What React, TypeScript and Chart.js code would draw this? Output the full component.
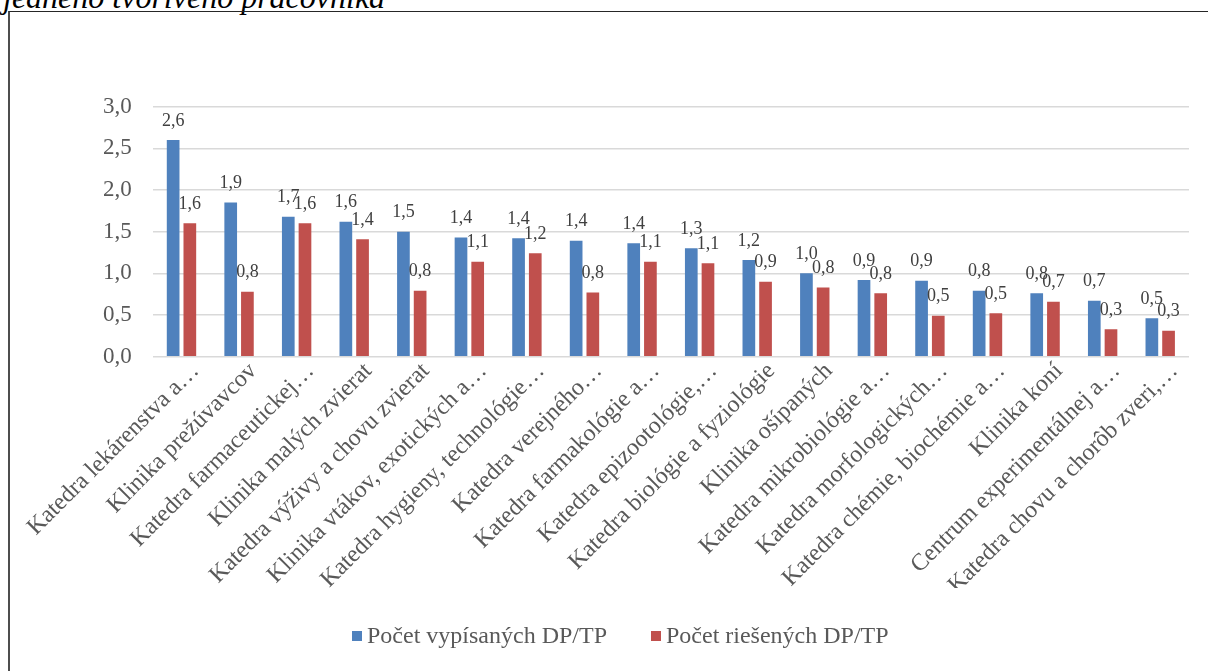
import React, { useEffect, useRef } from "react";
import { Chart, registerables } from "chart.js";

Chart.register(...registerables);

const categories = [
  "Katedra lekárenstva a…",
  "Klinika prežúvavcov",
  "Katedra farmaceutickej…",
  "Klinika malých zvierat",
  "Katedra výživy a chovu zvierat",
  "Klinika vtákov, exotických a…",
  "Katedra hygieny, technológie…",
  "Katedra verejného…",
  "Katedra farmakológie a…",
  "Katedra epizootológie,…",
  "Katedra biológie a fyziológie",
  "Klinika ošípaných",
  "Katedra mikrobiológie a…",
  "Katedra morfologických…",
  "Katedra chémie, biochémie a…",
  "Klinika koní",
  "Centrum experimentálnej a…",
  "Katedra chovu a chorôb zveri,…",
];

const vypisane = [2.6, 1.85, 1.68, 1.62, 1.5, 1.43, 1.42, 1.39, 1.36, 1.3, 1.16, 1.0, 0.92, 0.91, 0.79, 0.76, 0.67, 0.46];
const riesene = [1.6, 0.78, 1.6, 1.41, 0.79, 1.14, 1.24, 0.77, 1.14, 1.12, 0.9, 0.83, 0.76, 0.49, 0.52, 0.66, 0.33, 0.31];

const seriesNames = ["Počet vypísaných DP/TP", "Počet riešených DP/TP"];
const seriesColors = ["#4f81bd", "#c0504d"];
const yMin = 0;
const yMax = 3;
const yStep = 0.5;

const FONT = '"Liberation Serif", "Times New Roman", Times, serif';
const fmt = (v: number) => Number(v).toFixed(1).replace(".", ",");

const dataLabelPlugin = {
  id: "dataLabels",
  afterDatasetsDraw(chart: any) {
    const ctx = chart.ctx;
    ctx.save();
    ctx.font = `18px ${FONT}`;
    ctx.fillStyle = "#404040";
    ctx.textAlign = "center";
    ctx.textBaseline = "alphabetic";
    chart.data.datasets.forEach((ds: any, i: number) => {
      const meta = chart.getDatasetMeta(i);
      meta.data.forEach((bar: any, j: number) => {
        ctx.fillText(fmt(ds.data[j]), bar.x, bar.y - 14.5);
      });
    });
    ctx.restore();
  },
};

// legend drawn from the datasets below the axis labels
const legendPlugin = {
  id: "bottomLegend",
  afterDraw(chart: any) {
    const ctx = chart.ctx;
    ctx.save();
    ctx.font = `24px ${FONT}`;
    ctx.textBaseline = "middle";
    ctx.textAlign = "left";
    const box = 10;
    const gapText = 5;
    const gapItem = 44;
    const cy = 624;
    let x = 352;
    chart.data.datasets.forEach((ds: any) => {
      const w = ctx.measureText(ds.label).width;
      ctx.fillStyle = ds.backgroundColor;
      ctx.fillRect(x, cy - box / 2, box, box);
      ctx.fillStyle = "#595959";
      ctx.fillText(ds.label, x + box + gapText, cy + 1);
      x += box + gapText + w + gapItem;
    });
    ctx.restore();
  },
};

export default function App() {
  const ref = useRef<HTMLCanvasElement | null>(null);

  useEffect(() => {
    if (!ref.current) return;
    const chart = new Chart(ref.current, {
      type: "bar",
      data: {
        labels: categories,
        datasets: [
          {
            label: seriesNames[0],
            data: vypisane,
            backgroundColor: seriesColors[0],
            borderWidth: 0,
            categoryPercentage: 0.58,
            barPercentage: 0.76,
          },
          {
            label: seriesNames[1],
            data: riesene,
            backgroundColor: seriesColors[1],
            borderWidth: 0,
            categoryPercentage: 0.58,
            barPercentage: 0.76,
          },
        ],
      },
      options: {
        responsive: false,
        animation: false,
        devicePixelRatio: 1,
        layout: {
          padding: { top: 94.7, right: 19, bottom: 83, left: 0 },
          autoPadding: false,
        },
        plugins: {
          legend: { display: false },
          tooltip: { enabled: false },
        },
        scales: {
          x: {
            grid: { display: false, drawTicks: false },
            border: { display: false },
            ticks: {
              autoSkip: false,
              maxRotation: 45,
              minRotation: 45,
              color: "#595959",
              font: { family: FONT, size: 24 },
              padding: 0.5,
              labelOffset: 14,
            },
            afterFit: (s: any) => {
              s.height = 231.3;
              s.paddingLeft = 0;
              s.paddingRight = 0;
            },
          },
          y: {
            min: yMin,
            max: yMax,
            grid: { color: "#d9d9d9", lineWidth: 1.5, drawTicks: false },
            border: { display: false },
            ticks: {
              stepSize: yStep,
              padding: 21,
              color: "#595959",
              font: { family: FONT, size: 23 },
              callback: (v: any) => fmt(v),
            },
            afterFit: (s: any) => {
              s.width = 152.7;
            },
          },
        },
      } as any,
      plugins: [dataLabelPlugin, legendPlugin],
    });
    return () => chart.destroy();
  }, []);

  return (
    <div
      style={{
        position: "fixed",
        left: 0,
        top: 0,
        width: 1208,
        height: 671,
        overflow: "hidden",
        background: "#fff",
      }}
    >
      <div
        style={{
          position: "absolute",
          left: 3,
          top: -19,
          fontFamily: FONT,
          fontStyle: "italic",
          fontSize: 32,
          lineHeight: "32px",
          color: "#000",
          whiteSpace: "nowrap",
        }}
      >
        jedného tvorivého pracovníka
      </div>
      <div
        style={{
          position: "absolute",
          left: 8,
          top: 11,
          width: 1230,
          height: 700,
          borderTop: "1px solid #262626",
          borderLeft: "2px solid #4d4d4d",
          boxSizing: "border-box",
        }}
      />
      <canvas
        ref={ref}
        width={1208}
        height={659}
        style={{ position: "absolute", left: 0, top: 12, display: "block" }}
      />
    </div>
  );
}
